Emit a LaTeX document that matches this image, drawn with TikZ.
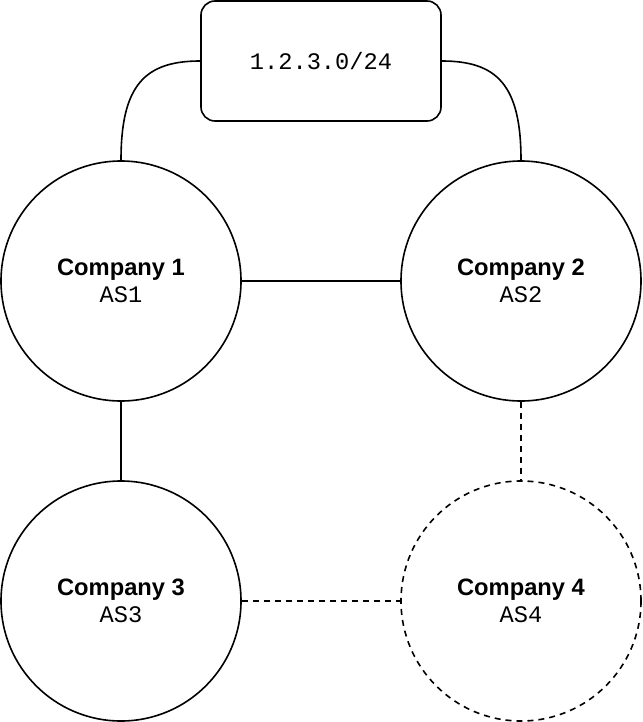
\documentclass[tikz,border=0pt]{standalone}
\usepackage{fontspec}
\setmainfont{Liberation Sans}
\newfontfamily\monofnt{Liberation Mono}
\begin{document}
\begin{tikzpicture}[x=1pt,y=-1pt,
  company/.style={draw, line width=1.6pt, circle, minimum size=240pt, inner sep=0pt, align=center, font=\fontsize{23.7}{27}\selectfont},
  prefixbox/.style={draw, line width=1.6pt, rounded corners=14pt, minimum width=240pt, minimum height=120pt, inner sep=0pt, font=\monofnt\fontsize{23.7}{27}\selectfont},
  link/.style={line width=1.6pt},
  dlink/.style={line width=1.6pt, dash pattern=on 6pt off 5pt}]
\useasboundingbox (0,0) rectangle (642,722);
\newcommand{\comp}[2]{\textbf{#1}\\{\monofnt #2}}
\node[prefixbox] (net) at (321,61) {1.2.3.0/24};
\node[company] (c1) at (121,281) {\comp{Company 1}{AS1}};
\node[company] (c2) at (521,281) {\comp{Company 2}{AS2}};
\node[company] (c3) at (121,601) {\comp{Company 3}{AS3}};
\node[company, dash pattern=on 6pt off 5pt] (c4) at (521,601) {\comp{Company 4}{AS4}};
\draw[link] (net.west) .. controls (145,61) and (121,85) .. (c1.north);
\draw[link] (net.east) .. controls (497,61) and (521,85) .. (c2.north);
\draw[link] (c1.east) -- (c2.west);
\draw[link] (c1.south) -- (c3.north);
\draw[dlink] (c2.south) -- (c4.north);
\draw[dlink] (c3.east) -- (c4.west);
\end{tikzpicture}
\end{document}
